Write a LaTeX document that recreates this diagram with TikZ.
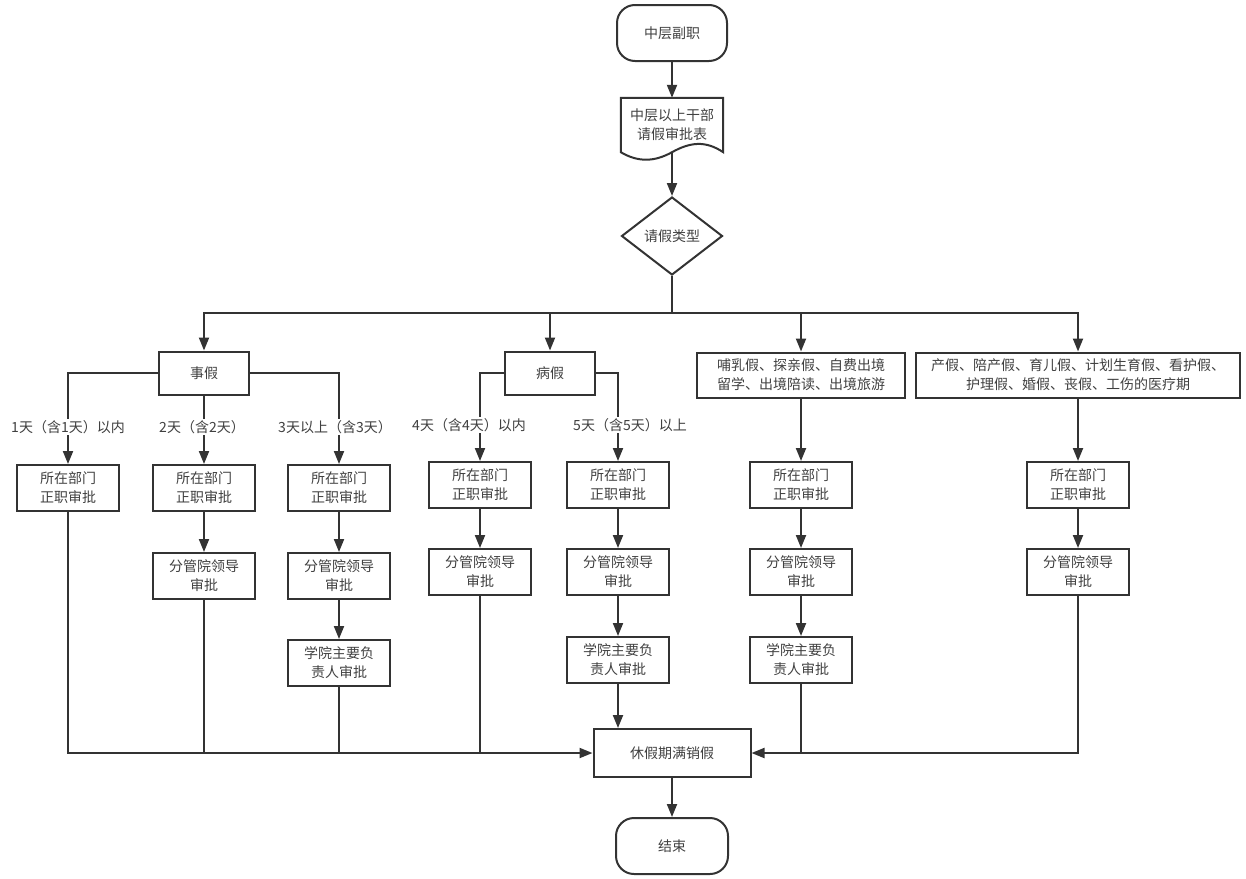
\documentclass[tikz,border=0pt]{standalone}
\usepackage{fontspec}
\setmainfont{Noto Sans CJK SC}
\usetikzlibrary{shapes.geometric,arrows.meta}
\definecolor{ink}{HTML}{333333}
\definecolor{txt}{HTML}{404040}

\begin{document}
\begin{tikzpicture}[x=1pt,y=-1pt,
  font=\fontsize{14}{19}\selectfont,
  every node/.style={text=txt},
  box/.style={draw=ink,line width=2pt,align=center,inner sep=0pt,
    minimum width=102pt,minimum height=46pt},
  term/.style={box,rounded corners=18pt,minimum width=110pt,minimum height=56pt},
  lab/.style={fill=white,inner sep=1pt},
  line/.style={draw=ink,line width=2pt},
  arr/.style={line,-{Triangle[length=13pt,width=10pt]}}]
\useasboundingbox (0,0) rectangle (1246,878);
% top of the chart
\node[term] (start) at (672,33) {中层副职};
\node[align=center,inner sep=0pt,minimum width=102pt,minimum height=54pt] (form) at (672,125) {中层以上干部\\请假审批表};
\draw[line] (form.north west) -- (form.north east) -- (form.south east)
  .. controls +(-18,-12) and +(18,-10) .. (form.south)
  .. controls +(-18,10) and +(17,10) .. (form.south west) -- cycle;
\node[draw=ink,line width=2pt,diamond,aspect=1.3,inner sep=0pt,
  minimum width=101pt,minimum height=78pt] (kind) at (672,236) {请假类型};
\coordinate (bus) at (672,313);
% leave types
\node[box,minimum width=90pt,minimum height=43pt] (shi) at (204,373) {事假};
\node[box,minimum width=90pt,minimum height=43pt] (bing) at (550,373) {病假};
\node[box,minimum width=208pt,minimum height=45pt] (buru) at (801,375) {哺乳假、探亲假、自费出境\\留学、出境陪读、出境旅游};
\node[box,minimum width=324pt,minimum height=45pt] (chan) at (1078,375) {产假、陪产假、育儿假、计划生育假、看护假、\\护理假、婚假、丧假、工伤的医疗期};
% department heads
\node[box] (dA) at (68,488) {所在部门\\正职审批};
\node[box] (dB) at (204,488) {所在部门\\正职审批};
\node[box] (dC) at (339,488) {所在部门\\正职审批};
\node[box] (dD) at (480,485) {所在部门\\正职审批};
\node[box] (dE) at (618,485) {所在部门\\正职审批};
\node[box] (dF) at (801,485) {所在部门\\正职审批};
\node[box] (dG) at (1078,485) {所在部门\\正职审批};
% leaders in charge
\node[box] (lB) at (204,576) {分管院领导\\审批};
\node[box] (lC) at (339,576) {分管院领导\\审批};
\node[box] (lD) at (480,572) {分管院领导\\审批};
\node[box] (lE) at (618,572) {分管院领导\\审批};
\node[box] (lF) at (801,572) {分管院领导\\审批};
\node[box] (lG) at (1078,572) {分管院领导\\审批};
% principal
\node[box] (pC) at (339,663) {学院主要负\\责人审批};
\node[box] (pE) at (618,660) {学院主要负\\责人审批};
\node[box] (pF) at (801,660) {学院主要负\\责人审批};
% bottom
\node[box,minimum width=157pt,minimum height=48pt] (done) at (672,753) {休假期满销假};
\node[term,minimum width=112pt] (stop) at (672,846) {结束};

\draw[arr] (start.south) -- (form.north);
\draw[arr] (form.south) -- (kind.north);
\draw[line] (kind.south) -- (bus);
\draw[arr] (bus) -| (shi.north);
\draw[arr] (bus) -| (bing.north);
\draw[arr] (bus) -| (buru.north);
\draw[arr] (bus) -| (chan.north);

\draw[arr] (shi.west) -| (dA.north);
\draw[arr] (shi.south) -- (dB.north);
\draw[arr] (shi.east) -| (dC.north);
\draw[arr] (bing.west) -| (dD.north);
\draw[arr] (bing.east) -| (dE.north);
\draw[arr] (buru.south) -- (dF.north);
\draw[arr] (chan.south) -- (dG.north);

\draw[arr] (dB) -- (lB);
\draw[arr] (dC) -- (lC);
\draw[arr] (dD) -- (lD);
\draw[arr] (dE) -- (lE);
\draw[arr] (dF) -- (lF);
\draw[arr] (dG) -- (lG);
\draw[arr] (lC) -- (pC);
\draw[arr] (lE) -- (pE);
\draw[arr] (lF) -- (pF);

\draw[arr] (dA.south) |- (done.west);
\draw[line] (lB.south) -- (lB.south |- done.west);
\draw[line] (pC.south) -- (pC.south |- done.west);
\draw[line] (lD.south) -- (lD.south |- done.west);
\draw[arr] (pE.south) -- (pE.south |- done.north);
\draw[arr] (lG.south) |- (done.east);
\draw[line] (pF.south) -- (pF.south |- done.east);
\draw[arr] (done.south) -- (stop.north);

% branch labels
\node[lab] (t1) at (68,427) {1天（含1天）以内};
\node[lab] (t2) at (202,427) {2天（含2天）};
\node[lab] (t3) at (335,427) {3天以上（含3天）};
\node[lab] (t4) at (469,425) {4天（含4天）以内};
\node[lab] (t5) at (630,425) {5天（含5天）以上};
\end{tikzpicture}
\end{document}
